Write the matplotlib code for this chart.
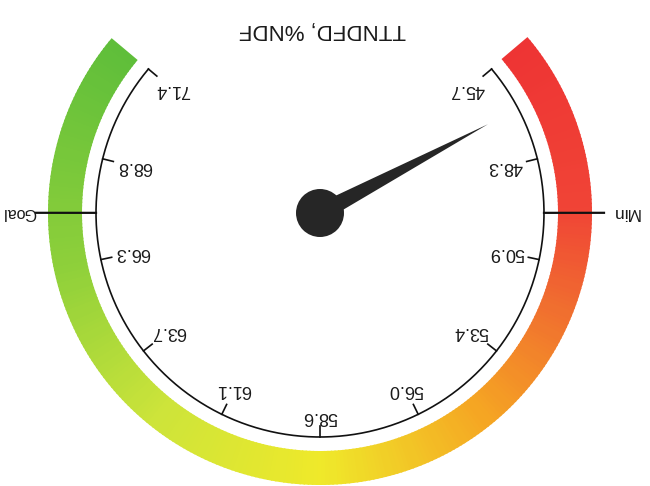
import numpy as np
import matplotlib.pyplot as plt
from matplotlib.patches import Wedge, Circle, Polygon
from matplotlib.colors import LinearSegmentedColormap

# gauge data (the picture is printed upside down)
title = 'TTNDFD, %NDF'
scale_min = 45.7
scale_max = 71.4
tick_labels = ['45.7', '48.3', '50.9', '53.4', '56.0', '58.6',
               '61.1', '63.7', '66.3', '68.8', '71.4']
min_value = 49.65
goal_value = 67.45
needle_value = 46.9

band_colors = ['#ee3434', '#f04436', '#f06a30', '#f5a523', '#efe92a',
               '#cde43a', '#8fd03a', '#5fbe3a']
band_stops = [0.0, 0.15, 0.23, 0.35, 0.5, 0.65, 0.8, 1.0]

# geometry in pixels
cx, cy = 320, 273
start_ang, span = 40.0, 260.0   # value scale_min sits at 40 deg, runs clockwise
r_arc = 224
r_band_in, r_band_out = 238, 272


def val2ang(v):
    return start_ang - (v - scale_min) / (scale_max - scale_min) * span


def pt(r, ang):
    a = np.radians(ang)
    return cx + r * np.cos(a), cy + r * np.sin(a)


fig = plt.figure(figsize=(6.5, 4.86), dpi=100)
ax = fig.add_axes([0, 0, 1, 1])
ax.set_xlim(0, 650)
ax.set_ylim(0, 486)
ax.set_aspect('equal')
ax.axis('off')
font = 'Liberation Sans'

# coloured band
cmap = LinearSegmentedColormap.from_list('g', list(zip(band_stops, band_colors)))
n = 300
for i in range(n):
    a0 = start_ang - span * i / n
    a1 = start_ang - span * (i + 1) / n
    ax.add_patch(Wedge((cx, cy), r_band_out, a1, a0 + 0.3,
                       width=r_band_out - r_band_in,
                       color=cmap((i + 0.5) / n), lw=0))

# scale arc
th = np.linspace(start_ang, start_ang - span, 400)
ax.plot(cx + r_arc * np.cos(np.radians(th)), cy + r_arc * np.sin(np.radians(th)),
        color='#111111', lw=1.2)

# ticks and labels
tick_vals = np.linspace(scale_min, scale_max, len(tick_labels))
for v, lab in zip(tick_vals, tick_labels):
    a = val2ang(v)
    x0, y0 = pt(r_arc, a)
    x1, y1 = pt(r_arc - 11, a)
    ax.plot([x0, x1], [y0, y1], color='#111111', lw=1.2)
    c, s = abs(np.cos(np.radians(a))), abs(np.sin(np.radians(a)))
    off = 4 + c * 17 + s * 6
    lx, ly = pt(r_arc - 11 - off, a)
    ax.text(lx, ly, lab, rotation=180, rotation_mode='anchor', ha='center',
            va='center', fontsize=13, family=font, color='#1a1a1a')

# min / goal markers
for v, lab in [(min_value, 'Min'), (goal_value, 'Goal')]:
    a = val2ang(v)
    x0, y0 = pt(r_arc, a)
    x1, y1 = pt(r_band_out + 12, a)
    ax.plot([x0, x1], [y0, y1], color='#111111', lw=1.6)
    if lab == 'Min':
        ax.text(612, y0, lab, rotation=180, rotation_mode='anchor',
                ha='right', va='center', fontsize=12.5, family=font, color='#1a1a1a')
    else:
        ax.text(36, y0, lab, rotation=180, rotation_mode='anchor',
                ha='left', va='center', fontsize=11.5, family=font, color='#1a1a1a')

# needle
a = np.radians(val2ang(needle_value))
d = np.array([np.cos(a), np.sin(a)])
p = np.array([-d[1], d[0]])
c0 = np.array([cx, cy])
needle = Polygon([c0 + p * 9, c0 + d * 190, c0 - p * 9], closed=True,
                 color='#262626', lw=0)
ax.add_patch(needle)
ax.add_patch(Circle((cx, cy), 24, color='#262626', lw=0))

# title (upside down)
ax.text(322, 486 - 30, title, rotation=180, rotation_mode='anchor', ha='center',
        va='center', fontsize=16, family=font, color='#1a1a1a')

fig.savefig('out.png', dpi=100)
